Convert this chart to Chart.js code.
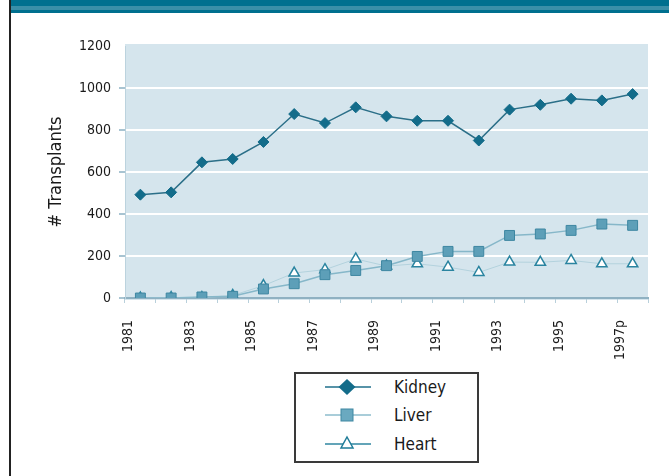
<!DOCTYPE html>
<html>
<head>
<meta charset="utf-8">
<script src="https://cdn.jsdelivr.net/npm/chart.js@4/dist/chart.umd.min.js"></script>
<style>
  html, body { margin: 0; padding: 0; background: #fff; }
  #wrap { position: relative; width: 669px; height: 476px; overflow: hidden; background: #fff; }
  #topbar { position: absolute; left: 11px; top: 0; width: 658px; height: 13px;
    background: linear-gradient(to bottom, #00708f 0px, #00708f 6px, #3a8fa8 6px, #3a8fa8 10px, #00708f 10px, #00708f 13px); }
  #leftline { position: absolute; left: 9px; top: 0; width: 2px; height: 476px; background: #222; }
  canvas { position: absolute; left: 0; top: 0; }
  #legend { position: absolute; left: 294px; top: 372px; width: 181px; height: 87px;
    border: 2px solid #3a3a3a; background: #fff; font-family: 'DejaVu Sans Condensed', 'DejaVu Sans', sans-serif; font-stretch: condensed; }
  .row { position: absolute; left: 0; height: 26px; width: 181px; }
  .row svg { position: absolute; left: 29px; top: 0; }
  .row span { position: absolute; left: 98px; top: 0; line-height: 26px; font-size: 17px; color: #1a1a1a; }
</style>
</head>
<body>
<div id="wrap">
  <div id="topbar"></div>
  <div id="leftline"></div>
  <canvas id="c" width="669" height="476"></canvas>
  <div id="legend">
    <div class="row" style="top:0px">
      <svg width="46" height="26"><line x1="0" y1="13" x2="46" y2="13" stroke="#1f6f8b" stroke-width="1.5"/><polygon points="22,5 30.5,13 22,21 13.5,13" fill="#136c8a"/></svg>
      <span>Kidney</span>
    </div>
    <div class="row" style="top:28px">
      <svg width="46" height="26"><line x1="0" y1="13" x2="46" y2="13" stroke="#8dbccc" stroke-width="1.5"/><rect x="16" y="7" width="12" height="12" fill="#6aa9c0" stroke="#3f87a2" stroke-width="1"/></svg>
      <span>Liver</span>
    </div>
    <div class="row" style="top:57px">
      <svg width="46" height="26"><line x1="0" y1="13" x2="46" y2="13" stroke="#2f86a0" stroke-width="1.5"/><polygon points="22,6 28,17 16,17" fill="#fff" stroke="#1f7c98" stroke-width="1.5"/></svg>
      <span>Heart</span>
    </div>
  </div>
</div>
<script>
const years = ['1981','1982','1983','1984','1985','1986','1987','1988','1989','1990','1991','1992','1993','1994','1995','1996','1997p'];
const kidney = [492, 503, 646, 662, 743, 876, 833, 908, 865, 844, 844, 750, 897, 920, 949, 941, 971];
const liver  = [0, 0, 5, 8, 43, 68, 111, 131, 154, 198, 222, 222, 298, 305, 322, 352, 346];
const heart  = [0, 2, 2, 12, 59, 119, 135, 186, 152, 163, 147, 122, 171, 170, 179, 163, 163];
const yTicks = [0, 200, 400, 600, 800, 1000, 1200];

const FONT = "'DejaVu Sans Condensed', 'DejaVu Sans', sans-serif";

const bgPlugin = {
  id: 'bg',
  beforeDraw(chart) {
    const { ctx, chartArea: { left, right, top, bottom } } = chart;
    ctx.save();
    ctx.fillStyle = '#d5e5ed';
    ctx.fillRect(left, top - 2, right - left, bottom - top + 4);
    ctx.restore();
  }
};

new Chart(document.getElementById('c'), {
  type: 'line',
  data: {
    labels: years,
    datasets: [
      { label: 'Kidney', data: kidney, borderColor: '#2b6f88', borderWidth: 1.5,
        pointStyle: 'rectRot', pointRadius: 5.5, pointBackgroundColor: '#136c8a', pointBorderColor: '#136c8a', pointBorderWidth: 1 },
      { label: 'Liver', data: liver, borderColor: '#86b7c9', borderWidth: 1.5,
        pointStyle: 'rect', pointRadius: 7, pointBackgroundColor: '#5d9fb8', pointBorderColor: '#3d86a1', pointBorderWidth: 1 },
      { label: 'Heart', data: heart, borderColor: '#b3d2dd', borderWidth: 1,
        pointStyle: 'triangle', pointRadius: 6, pointBackgroundColor: '#ffffff', pointBorderColor: '#2a84a0', pointBorderWidth: 1.5 }
    ]
  },
  options: {
    responsive: false,
    animation: false,
    layout: { padding: { left: 46, top: 46, right: 21, bottom: 0 } },
    plugins: { legend: { display: false }, tooltip: { enabled: false } },
    elements: { line: { tension: 0 } },
    scales: {
      x: {
        type: 'category',
        offset: true,
        afterFit(s) { s.height = 178; },
        grid: { offset: true, drawOnChartArea: false, drawTicks: true, tickLength: 5, tickColor: '#b9d0db', tickWidth: 1 },
        border: { display: true, color: '#8fb1c2', width: 2 },
        ticks: {
          autoSkip: false, minRotation: 90, maxRotation: 90, padding: 17, labelOffset: -12,
          color: '#1a1a1a', font: { family: FONT, size: 14 },
          callback(v, i) { return i % 2 === 0 ? years[i] : ''; }
        }
      },
      y: {
        min: 0, max: 1200,
        afterFit(s) { s.width = 79; },
        afterBuildTicks(s) { s.ticks = yTicks.map(v => ({ value: v })); },
        grid: {
          color: (c) => (c.tick && (c.tick.value === 0 || c.tick.value === 1200)) ? 'rgba(0,0,0,0)' : '#ffffff',
          lineWidth: 2, drawTicks: true, tickLength: 6,
          tickColor: (c) => (c.tick && c.tick.value === 1200) ? 'rgba(0,0,0,0)' : '#a8c4d2'
        },
        border: { display: true, color: '#bcd3de', width: 1 },
        title: { display: true, text: '# Transplants', color: '#1a1a1a', font: { family: FONT, size: 18 }, padding: 0 },
        ticks: { color: '#1a1a1a', font: { family: FONT, size: 14 }, padding: 8,
          callback(v) { return String(v); } }
      }
    }
  },
  plugins: [bgPlugin]
});
</script>
</body>
</html>
